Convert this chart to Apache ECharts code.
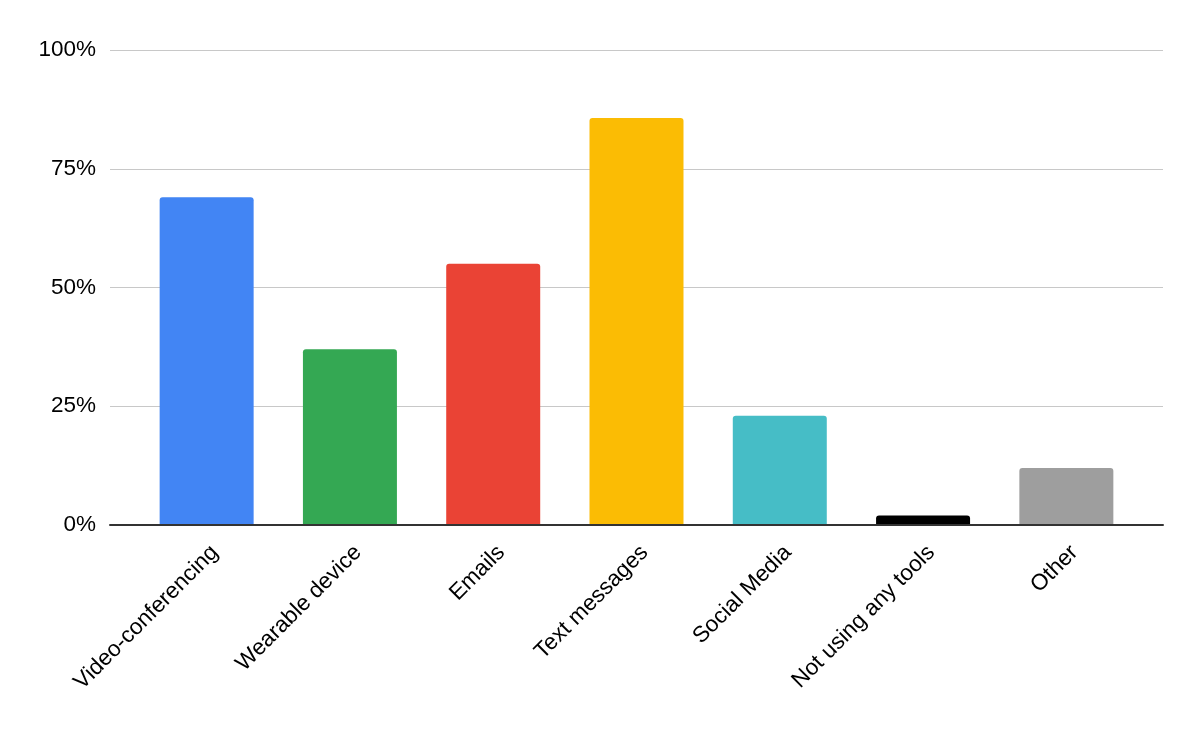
<!DOCTYPE html>
<html>
<head>
<meta charset="utf-8">
<style>html,body{margin:0;padding:0;background:#fff;}#c{width:1200px;height:742px;}</style>
<script src="https://cdn.jsdelivr.net/npm/echarts@6/dist/echarts.min.js"></script>
</head>
<body>
<div id="c"></div>
<script>
const categories = ["Video-conferencing", "Wearable device", "Emails", "Text messages", "Social Media", "Not using any tools", "Other"];
const values = [69, 37, 55, 85.7, 23, 2, 12];
const colors = ["#4285F4", "#34A853", "#EA4335", "#FBBC04", "#46BDC6", "#000000", "#9E9E9E"];
const yTicks = [0, 25, 50, 75, 100];

const font = 'Liberation Sans, Arial, sans-serif';
const chart = echarts.init(document.getElementById('c'));
chart.setOption({
  animation: false,
  grid: [
    { left: 110, right: 37, top: 50, bottom: 217 },
    { left: 135, right: 62, top: 50, bottom: 217 }
  ],
  xAxis: [
    {
      gridIndex: 0, type: 'value', min: 0, max: 1,
      axisLine: { show: true, onZero: false, lineStyle: { color: '#333333', width: 2 } },
      axisTick: { show: false }, axisLabel: { show: false }, splitLine: { show: false }, z: 5
    },
    {
      gridIndex: 1, type: 'category', data: categories,
      axisLine: { show: false }, axisTick: { show: false },
      axisLabel: { rotate: 45, fontSize: 22.5, color: '#000', fontFamily: font, margin: 16, interval: 0, verticalAlign: 'top' }
    }
  ],
  yAxis: [
    {
      gridIndex: 0, type: 'value', min: 0, max: 100, interval: 25,
      axisLine: { show: false }, axisTick: { show: false },
      splitLine: { lineStyle: { color: '#c8c8c8', width: 1.2 } },
      axisLabel: { fontSize: 22.5, color: '#000', fontFamily: font, margin: 14, padding: [4, 0, 0, 0],
        formatter: v => yTicks.includes(v) ? v + '%' : '' }
    },
    {
      gridIndex: 1, type: 'value', min: 0, max: 100, interval: 25, show: false, splitLine: { show: false }
    }
  ],
  series: [{
    type: 'bar', xAxisIndex: 1, yAxisIndex: 1,
    data: values.map((v, i) => ({ value: v, itemStyle: { color: colors[i] } })),
    barCategoryGap: '34.4%',
    itemStyle: { borderRadius: [3, 3, 0, 0] }
  }]
});
</script>
</body>
</html>
